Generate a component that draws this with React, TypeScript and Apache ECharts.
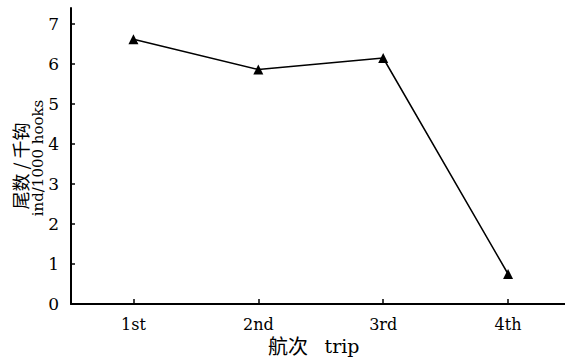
import React, { useEffect, useRef } from "react";
import * as echarts from "echarts";

const categories = ["1st", "2nd", "3rd", "4th"];
const catchRate = [6.62, 5.86, 6.15, 0.75];
const yTicks = [0, 1, 2, 3, 4, 5, 6, 7];
const yNameCn = "尾数 / 千钩";
const yNameEn = "ind/1000 hooks";
const xNameCn = "航次";
const xNameEn = "trip";

const SERIF = "'DejaVu Serif', 'Liberation Serif', serif";
const CJK = "'Noto Sans CJK SC', sans-serif";

export default function App() {
  const ref = useRef<HTMLDivElement>(null);
  useEffect(() => {
    const chart = echarts.init(ref.current!, null, { renderer: "svg" });
    const xPositions = categories.map((_, i) => i + 1);
    chart.setOption({
      animation: false,
      backgroundColor: "#fff",
      grid: { left: 71, top: 8, right: 0, bottom: 54 },
      xAxis: {
        type: "value",
        min: 0.5,
        max: 4.456,
        axisLine: { lineStyle: { color: "#000", width: 2 } },
        axisTick: { inside: true, length: 5, customValues: xPositions, lineStyle: { color: "#000", width: 1.5 } },
        axisLabel: {
          color: "#000",
          fontSize: 16,
          fontFamily: SERIF,
          margin: 12,
          customValues: xPositions,
          formatter: (v: number) => categories[Math.round(v) - 1] ?? "",
        },
        splitLine: { show: false },
      },
      yAxis: {
        type: "value",
        min: 0,
        max: 7.4,
        interval: 1,
        axisLine: { show: true, lineStyle: { color: "#000", width: 2 } },
        axisTick: { show: true, inside: true, length: 4, customValues: yTicks, lineStyle: { color: "#000", width: 1.5 } },
        axisLabel: { color: "#000", fontSize: 17, fontFamily: SERIF, margin: 12, customValues: yTicks },
        splitLine: { show: false },
      },
      graphic: [
        {
          type: "text",
          x: 20,
          y: 166,
          rotation: Math.PI / 2,
          style: {
            text: yNameCn,
            fontSize: 18,
            fontFamily: CJK,
            fill: "#000",
            align: "center",
            verticalAlign: "middle",
          },
        },
        {
          type: "text",
          x: 38,
          y: 158,
          rotation: Math.PI / 2,
          style: {
            text: yNameEn,
            fontSize: 15,
            fontFamily: SERIF,
            fill: "#000",
            align: "center",
            verticalAlign: "middle",
          },
        },
        {
          type: "text",
          x: 288,
          y: 345,
          style: {
            text: xNameCn,
            fontSize: 20,
            fontFamily: CJK,
            fill: "#000",
            align: "center",
            verticalAlign: "middle",
          },
        },
        {
          type: "text",
          x: 342,
          y: 346,
          style: {
            text: xNameEn,
            fontSize: 19,
            fontFamily: SERIF,
            fill: "#000",
            align: "center",
            verticalAlign: "middle",
          },
        },
      ],
      series: [
        {
          type: "line",
          data: catchRate.map((v, i) => [xPositions[i], v]),
          symbol: "triangle",
          symbolSize: 10,
          itemStyle: { color: "#000" },
          lineStyle: { color: "#000", width: 1.5 },
        },
      ],
    });
    return () => chart.dispose();
  }, []);
  return <div ref={ref} style={{ width: 565, height: 358, position: "absolute", left: 0, top: 0 }} />;
}
